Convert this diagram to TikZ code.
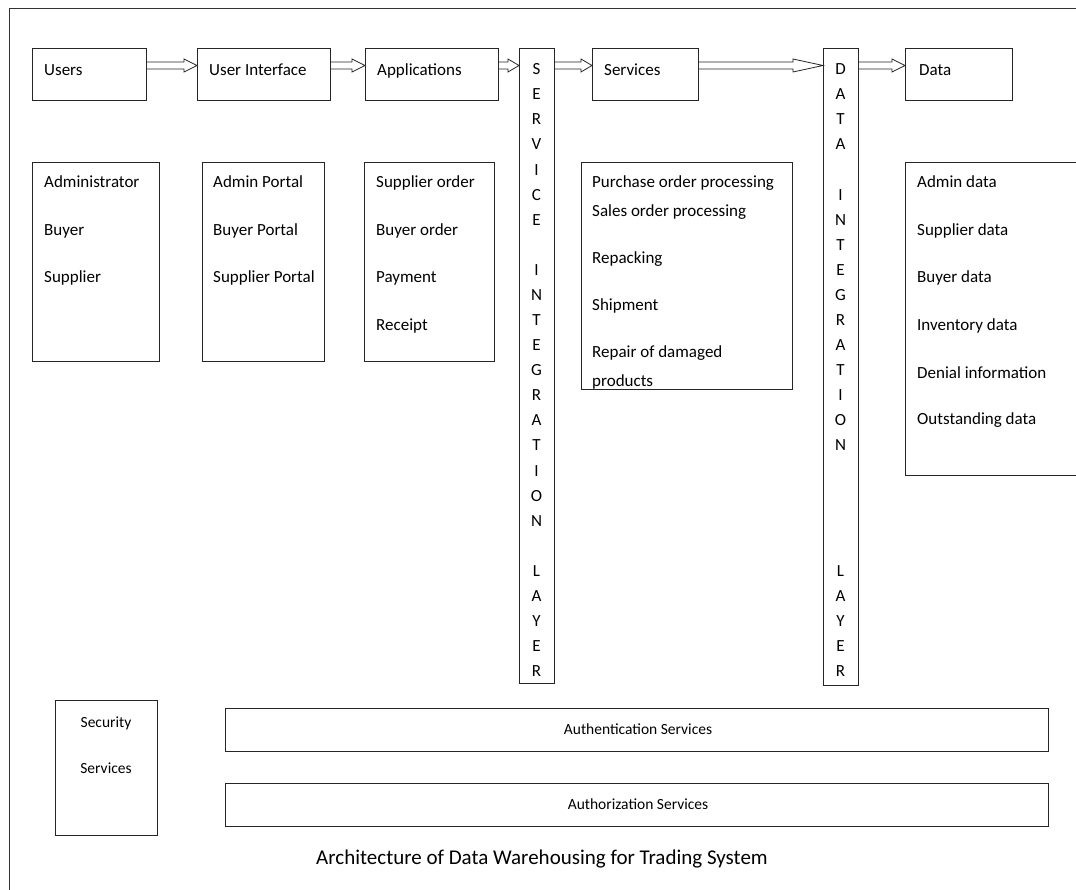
\documentclass[tikz,border=0pt]{standalone}
\usepackage{fontspec}
\setmainfont{Carlito}
\usetikzlibrary{calc}
\tikzset{
  box/.style={draw=black!85, line width=0.9pt, inner sep=0pt, anchor=north west},
  lbl/.style={font=\fontsize{17}{20}\selectfont, inner sep=0pt, anchor=base west, text=black},
  vlbl/.style={font=\fontsize{17}{25.08}\selectfont, align=center, inner sep=0pt, anchor=north, text=black},
  slbl/.style={font=\fontsize{15.5}{18}\selectfont, inner sep=0pt, anchor=base, text=black},
  barrow/.style={draw=black!85, line width=0.8pt, line join=miter},
}
\newcommand\blockarrow[3]{%
  \draw[barrow] ($(#1.east|-ay)+(0,-3.5)$) -- ($(#2.west|-ay)+(-#3,-3.5)$) -- ($(#2.west|-ay)+(-#3,-6.5)$) -- (#2.west|-ay) -- ($(#2.west|-ay)+(-#3,6.5)$) -- ($(#2.west|-ay)+(-#3,3.5)$) -- ($(#1.east|-ay)+(0,3.5)$);%
}
\begin{document}
\begin{tikzpicture}[x=1pt, y=-1pt]
\useasboundingbox (0,0) rectangle (1076,890);
\clip (0,0) rectangle (1076,890);
\fill[white] (0,0) rectangle (1076,890);
% outer frame
\draw[draw=black!80, line width=0.9pt] (9,900) -- (9,8) -- (1090,8);
\coordinate (ay) at (0,65.5);
% top row
\node[box, minimum width=114pt, minimum height=52pt] (users) at (32,48) {};
\node[box, minimum width=133pt, minimum height=52pt] (ui) at (197,48) {};
\node[box, minimum width=133pt, minimum height=52pt] (apps) at (365,48) {};
\node[box, minimum width=35pt, minimum height=635pt] (sil) at (519,48) {};
\node[box, minimum width=106pt, minimum height=52pt] (svc) at (592,48) {};
\node[box, minimum width=35pt, minimum height=637pt] (dil) at (823,48) {};
\node[box, minimum width=107pt, minimum height=52pt] (data) at (905,48) {};
\node[lbl] (users-t) at (44,75.5) {Users};
\node[lbl] (ui-t) at (209,75.5) {User Interface};
\node[lbl] (apps-t) at (377,75.5) {Applications};
\node[lbl] (svc-t) at (604,75.5) {Services};
\node[lbl] (data-t) at (919,75.5) {Data};
\node[vlbl] (sil-t) at (536.5,63.5) {S\\E\\R\\V\\I\\C\\E\\[25.08pt]I\\N\\T\\E\\G\\R\\A\\T\\I\\O\\N\\[25.08pt]L\\A\\Y\\E\\R};
\node[vlbl] (dil-t) at (840.5,63.5) {D\\A\\T\\A\\[25.08pt]I\\N\\T\\E\\G\\R\\A\\T\\I\\O\\N\\[100.32pt]L\\A\\Y\\E\\R};
% arrows
\blockarrow{users}{ui}{13}
\blockarrow{ui}{apps}{13}
\blockarrow{apps}{sil}{11}
\blockarrow{sil}{svc}{11}
\blockarrow{svc}{dil}{30}
\blockarrow{dil}{data}{13}
% second row lists
\node[box, minimum width=127pt, minimum height=199pt] (userslist) at (32,162) {};
\node[lbl] (u1) at (44,187.5) {Administrator};
\node[lbl] (u2) at (44,235.5) {Buyer};
\node[lbl] (u3) at (44,282.5) {Supplier};
\node[box, minimum width=122pt, minimum height=199pt] (uilist) at (202,162) {};
\node[lbl] (p1) at (213,187.5) {Admin Portal};
\node[lbl] (p2) at (213,235.5) {Buyer Portal};
\node[lbl] (p3) at (213,282.5) {Supplier Portal};
\node[box, minimum width=130pt, minimum height=199pt] (appslist) at (364,162) {};
\node[lbl] (a1) at (376,187.5) {Supplier order};
\node[lbl] (a2) at (376,235.5) {Buyer order};
\node[lbl] (a3) at (376,282.5) {Payment};
\node[lbl] (a4) at (376,330.5) {Receipt};
\node[box, minimum width=211pt, minimum height=227pt] (svclist) at (581,162) {};
\begin{scope}
\clip (svclist.north west) rectangle (svclist.south east);
\node[lbl] (s1) at (592,187.5) {Purchase order processing};
\node[lbl] (s2) at (592,216.5) {Sales order processing};
\node[lbl] (s3) at (592,263.5) {Repacking};
\node[lbl] (s4) at (592,310.5) {Shipment};
\node[lbl] (s5) at (592,357.5) {Repair of damaged};
\node[lbl] (s6) at (592,386) {products};
\end{scope}
\node[box, minimum width=200pt, minimum height=313pt] (datalist) at (905,162) {};
\node[lbl] (d1) at (917,187.5) {Admin data};
\node[lbl] (d2) at (917,236) {Supplier data};
\node[lbl] (d3) at (917,283) {Buyer data};
\node[lbl] (d4) at (917,331) {Inventory data};
\node[lbl] (d5) at (917,378) {Denial information};
\node[lbl] (d6) at (917,424.5) {Outstanding data};
% bottom
\node[box, minimum width=102pt, minimum height=135pt] (sec) at (55,700) {};
\node[slbl] (sec1) at (106,727) {Security};
\node[slbl] (sec2) at (106,773) {Services};
\node[box, minimum width=823pt, minimum height=43pt] (auth) at (225,708) {};
\node[slbl] (auth-t) at (638,734.5) {Authentication Services};
\node[box, minimum width=823pt, minimum height=43pt] (authz) at (225,783) {};
\node[slbl] (authz-t) at (638,809.5) {Authorization Services};
\node[font=\fontsize{21}{24}\selectfont, inner sep=0pt, anchor=base, text=black] (cap) at (542,864) {Architecture of Data Warehousing for Trading System};
\end{tikzpicture}
\end{document}
